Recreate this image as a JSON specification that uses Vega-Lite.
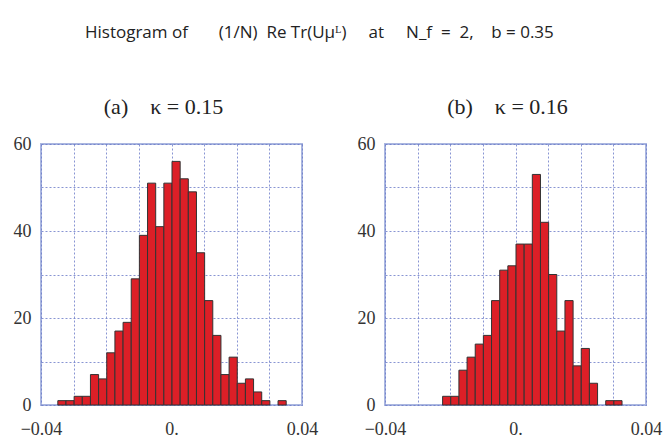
{
  "$schema": "https://vega.github.io/schema/vega-lite/v6.json",
  "padding": {"left": 12, "top": 24, "right": 5, "bottom": 5},
  "background": "white",
  "title": {
    "text": "Histogram of\u00a0\u00a0\u00a0\u00a0\u00a0\u00a0\u00a0(1/N)\u00a0\u00a0Re\u00a0Tr(Uμᴸ)\u00a0\u00a0\u00a0\u00a0\u00a0at\u00a0\u00a0\u00a0\u00a0\u00a0N_f\u00a0\u00a0=\u00a0\u00a02,\u00a0\u00a0\u00a0\u00a0b\u00a0=\u00a00.35",
    "font": "Open Sans",
    "fontSize": 17,
    "fontWeight": "normal",
    "color": "#222",
    "anchor": "middle",
    "dx": -18,
    "offset": 53
  },
  "data": {
    "values": [
      {"panel": "a", "x0": -0.035, "x1": -0.0325, "count": 1},
      {"panel": "a", "x0": -0.0325, "x1": -0.03, "count": 1},
      {"panel": "a", "x0": -0.03, "x1": -0.0275, "count": 2},
      {"panel": "a", "x0": -0.0275, "x1": -0.025, "count": 2},
      {"panel": "a", "x0": -0.025, "x1": -0.0225, "count": 7},
      {"panel": "a", "x0": -0.0225, "x1": -0.02, "count": 6},
      {"panel": "a", "x0": -0.02, "x1": -0.0175, "count": 12},
      {"panel": "a", "x0": -0.0175, "x1": -0.015, "count": 17},
      {"panel": "a", "x0": -0.015, "x1": -0.0125, "count": 19},
      {"panel": "a", "x0": -0.0125, "x1": -0.01, "count": 29},
      {"panel": "a", "x0": -0.01, "x1": -0.0075, "count": 39},
      {"panel": "a", "x0": -0.0075, "x1": -0.005, "count": 51},
      {"panel": "a", "x0": -0.005, "x1": -0.0025, "count": 41},
      {"panel": "a", "x0": -0.0025, "x1": 0, "count": 51},
      {"panel": "a", "x0": 0, "x1": 0.0025, "count": 56},
      {"panel": "a", "x0": 0.0025, "x1": 0.005, "count": 52},
      {"panel": "a", "x0": 0.005, "x1": 0.0075, "count": 49},
      {"panel": "a", "x0": 0.0075, "x1": 0.01, "count": 35},
      {"panel": "a", "x0": 0.01, "x1": 0.0125, "count": 24},
      {"panel": "a", "x0": 0.0125, "x1": 0.015, "count": 16},
      {"panel": "a", "x0": 0.015, "x1": 0.0175, "count": 7},
      {"panel": "a", "x0": 0.0175, "x1": 0.02, "count": 11},
      {"panel": "a", "x0": 0.02, "x1": 0.0225, "count": 5},
      {"panel": "a", "x0": 0.0225, "x1": 0.025, "count": 6},
      {"panel": "a", "x0": 0.025, "x1": 0.0275, "count": 3},
      {"panel": "a", "x0": 0.0275, "x1": 0.03, "count": 1},
      {"panel": "a", "x0": 0.0325, "x1": 0.035, "count": 1},
      {"panel": "b", "x0": -0.0225, "x1": -0.02, "count": 2},
      {"panel": "b", "x0": -0.02, "x1": -0.0175, "count": 2},
      {"panel": "b", "x0": -0.0175, "x1": -0.015, "count": 8},
      {"panel": "b", "x0": -0.015, "x1": -0.0125, "count": 11},
      {"panel": "b", "x0": -0.0125, "x1": -0.01, "count": 14},
      {"panel": "b", "x0": -0.01, "x1": -0.0075, "count": 16},
      {"panel": "b", "x0": -0.0075, "x1": -0.005, "count": 24},
      {"panel": "b", "x0": -0.005, "x1": -0.0025, "count": 31},
      {"panel": "b", "x0": -0.0025, "x1": 0, "count": 32},
      {"panel": "b", "x0": 0, "x1": 0.0025, "count": 37},
      {"panel": "b", "x0": 0.0025, "x1": 0.005, "count": 37},
      {"panel": "b", "x0": 0.005, "x1": 0.0075, "count": 53},
      {"panel": "b", "x0": 0.0075, "x1": 0.01, "count": 42},
      {"panel": "b", "x0": 0.01, "x1": 0.0125, "count": 30},
      {"panel": "b", "x0": 0.0125, "x1": 0.015, "count": 17},
      {"panel": "b", "x0": 0.015, "x1": 0.0175, "count": 24},
      {"panel": "b", "x0": 0.0175, "x1": 0.02, "count": 9},
      {"panel": "b", "x0": 0.02, "x1": 0.0225, "count": 13},
      {"panel": "b", "x0": 0.0225, "x1": 0.025, "count": 5},
      {"panel": "b", "x0": 0.0275, "x1": 0.03, "count": 1},
      {"panel": "b", "x0": 0.03, "x1": 0.0325, "count": 1}
    ]
  },
  "spacing": 83,
  "bounds": "flush",
  "hconcat": [
    {
      "title": {"text": "(a)\u00a0\u00a0\u00a0\u00a0κ\u00a0=\u00a00.15", "dx": -8},
      "width": 261,
      "height": 261,
      "transform": [{"filter": "datum.panel == 'a'"}],
      "mark": {"type": "bar", "fill": "#dc1f27", "stroke": "#333333", "strokeWidth": 1, "binSpacing": 0},
      "encoding": {
        "x": {"field": "x0", "type": "quantitative", "bin": "binned", "scale": {"domain": [-0.04, 0.04]}, "axis": {"labelFont": "Times New Roman", "labelFontSize": 18, "labelPadding": 15, "values": [-0.04, -0.03, -0.02, -0.01, 0, 0.01, 0.02, 0.03, 0.04], "labelExpr": "abs(datum.value) < 0.001 ? '0.' : (abs(datum.value) > 0.035 ? (datum.value < 0 ? '−0.04' : '0.04') : '')"}},
        "x2": {"field": "x1"},
        "y": {"field": "count", "type": "quantitative", "scale": {"domain": [0, 60]}, "axis": {"labelFont": "Times New Roman", "labelFontSize": 18, "labelPadding": 10, "values": [0, 10, 20, 30, 40, 50, 60], "labelExpr": "datum.value % 20 == 0 ? datum.label : ''"}}
      }
    },
    {
      "title": {"text": "(b)\u00a0\u00a0\u00a0\u00a0κ\u00a0=\u00a00.16", "dx": -8},
      "width": 261,
      "height": 261,
      "transform": [{"filter": "datum.panel == 'b'"}],
      "mark": {"type": "bar", "fill": "#dc1f27", "stroke": "#333333", "strokeWidth": 1, "binSpacing": 0},
      "encoding": {
        "x": {"field": "x0", "type": "quantitative", "bin": "binned", "scale": {"domain": [-0.04, 0.04]}, "axis": {"labelFont": "Times New Roman", "labelFontSize": 18, "labelPadding": 15, "values": [-0.04, -0.03, -0.02, -0.01, 0, 0.01, 0.02, 0.03, 0.04], "labelExpr": "abs(datum.value) < 0.001 ? '0.' : (abs(datum.value) > 0.035 ? (datum.value < 0 ? '−0.04' : '0.04') : '')"}},
        "x2": {"field": "x1"},
        "y": {"field": "count", "type": "quantitative", "scale": {"domain": [0, 60]}, "axis": {"labelFont": "Times New Roman", "labelFontSize": 18, "labelPadding": 10, "values": [0, 10, 20, 30, 40, 50, 60], "labelExpr": "datum.value % 20 == 0 ? datum.label : ''"}}
      }
    }
  ],
  "config": {
    "view": {"stroke": "#aab6e0", "strokeWidth": 2},
    "title": {"font": "Liberation Serif", "fontSize": 22, "fontWeight": "normal", "color": "#222", "offset": 16},
    "axis": {
      "title": null,
      "grid": true,
      "gridColor": "#6a7ac8",
      "gridDash": [2, 2],
      "gridWidth": 0.8,
      "ticks": false,
      "domain": false,
      "labelColor": "#333333",
      "labelFlush": false,
      "labelOverlap": false
    }
  }
}
